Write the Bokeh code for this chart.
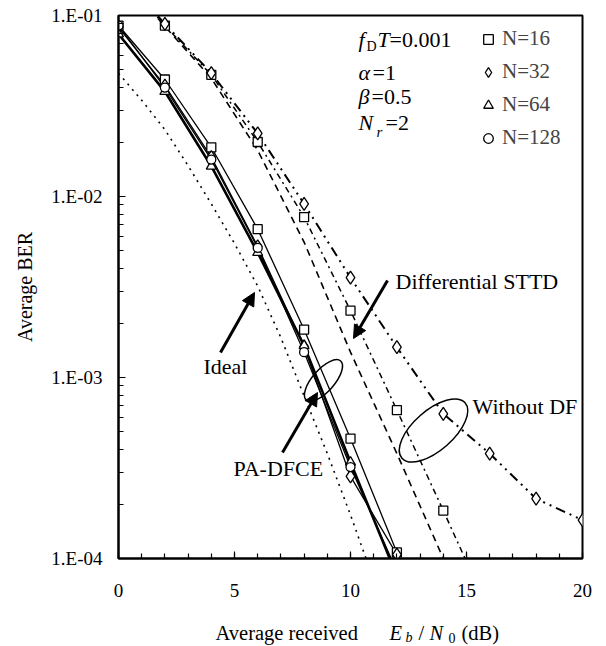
from bokeh.plotting import figure
from bokeh.layouts import column
from bokeh.models import (Range1d, FixedTicker, SingleIntervalTicker, Label, Arrow,
                          NormalHead, Legend, LegendItem)
from bokeh.embed import file_html
from bokeh.resources import INLINE

# ---------------- data ----------------
snr_pa = [0, 2, 4, 6, 8, 10, 12]
pa_n16 = [0.088, 0.0443, 0.0187, 0.0066, 0.00184, 0.00046, 0.000108]
pa_n32 = [0.086, 0.041, 0.0165, 0.0053, 0.00148, 0.000284, 0.000105]
pa_n64 = [0.079, 0.038, 0.0147, 0.0049, 0.0015, 0.00034, 0.00008]
pa_n128 = [0.088, 0.040, 0.016, 0.0052, 0.00138, 0.00032, 0.000085]

snr_ideal = [0, 1, 2, 3, 4, 5, 6, 7, 8, 9, 10, 11]
ideal = [0.048, 0.034, 0.0234, 0.0148, 0.0091, 0.0055, 0.0032, 0.00166,
         0.00079, 0.00038, 0.000174, 0.000076]

snr_dstt = [0, 2, 4, 6, 8, 10, 12, 14]
dstt = [0.17, 0.087, 0.045, 0.018, 0.0056, 0.00138, 0.00038, 0.0001]

snr_wdf16 = [0, 2, 4, 6, 8, 10, 12, 14, 16]
wdf_n16 = [0.17, 0.088, 0.047, 0.020, 0.0077, 0.00234, 0.00066, 0.000184, 0.00005]

snr_wdf32 = [0, 2, 4, 6, 8, 10, 12, 14, 16, 18, 20]
wdf_n32 = [0.17, 0.09, 0.048, 0.0223, 0.0091, 0.00356, 0.00147, 0.00063,
           0.00038, 0.000214, 0.000163]

xtick_vals = [0, 5, 10, 15, 20]
ytick_vals = [1e-4, 1e-3, 1e-2, 1e-1]
ytick_labels = ["1.E-04", "1.E-03", "1.E-02", "1.E-01"]
legend_labels = ["N=16", "N=32", "N=64", "N=128"]

FONT = "Liberation Serif"
FL, FR, FT, FB = 118, 582, 15, 558  # frame edges in canvas px
BOTTOM = 62                          # bottom border of the plot (x tick labels)
H_MAIN = FB + BOTTOM
H_STRIP = 646 - H_MAIN

p = figure(width=606, height=H_MAIN, output_backend="svg", toolbar_location=None,
           y_axis_type="log", x_range=Range1d(0, 20), y_range=Range1d(1e-4, 1e-1),
           frame_width=FR - FL, frame_height=FB - FT,
           min_border_left=FL, min_border_right=606 - FR, min_border_top=FT,
           min_border_bottom=BOTTOM)
p.xgrid.visible = False
p.ygrid.visible = False
p.outline_line_color = "black"
p.outline_line_width = 2
p.background_fill_color = "white"
p.border_fill_color = "white"

p.xaxis.ticker = SingleIntervalTicker(interval=5, num_minor_ticks=5)
minor_y = [m * 10.0 ** e for e in (-4, -3, -2) for m in range(2, 10)]
p.yaxis.ticker = FixedTicker(ticks=ytick_vals, minor_ticks=minor_y)
p.yaxis.major_label_overrides = dict(zip(ytick_vals, ytick_labels))
for ax in (p.xaxis, p.yaxis):
    ax.axis_line_width = 2
    ax.axis_line_color = "black"
    ax.major_tick_in = 7
    ax.major_tick_out = 0
    ax.minor_tick_in = 5
    ax.minor_tick_out = 0
    ax.major_tick_line_width = 1.2
    ax.minor_tick_line_width = 1.2
    ax.major_label_text_font = FONT
    ax.major_label_text_font_size = "19px"
    ax.major_label_text_color = "black"
    ax.axis_label_text_font = FONT
    ax.axis_label_text_font_style = "normal"
    ax.axis_label_text_font_size = "20px"
    ax.axis_label_text_color = "black"
p.xaxis.major_label_standoff = 25
p.yaxis.major_label_standoff = 16
p.yaxis.axis_label = "Average BER"
p.yaxis.axis_label_standoff = 12

# ---------------- curves ----------------
# Ideal
p.line(snr_ideal, ideal, line_color="black", line_width=1.6, line_dash="2 5")
# Differential STTD
p.line(snr_dstt, dstt, line_color="black", line_width=1.6, line_dash="7 5")
# Without DF
p.line(snr_wdf16, wdf_n16, line_color="black", line_width=1.5, line_dash="6 4 2 4")
p.line(snr_wdf32, wdf_n32, line_color="black", line_width=2, line_dash="10 5 2 5 2 5")
r_w16 = p.scatter(snr_wdf16, wdf_n16, marker="square", size=9, fill_color="white",
                  line_color="black", line_width=1.3)
r_w32 = p.scatter(snr_wdf32, wdf_n32, marker="diamond", size=13, fill_color="white",
                  line_color="black", line_width=1.3)
# PA-DFCE
p.line(snr_pa, pa_n16, line_color="black", line_width=1.3)
p.line(snr_pa, pa_n32, line_color="black", line_width=1.3)
p.line(snr_pa, pa_n64, line_color="black", line_width=2.6)
p.line(snr_pa, pa_n128, line_color="black", line_width=1.3)
r16 = p.scatter(snr_pa, pa_n16, marker="square", size=9, fill_color="white",
                line_color="black", line_width=1.3)
r32 = p.scatter(snr_pa, pa_n32, marker="diamond", size=13, fill_color="white",
                line_color="black", line_width=1.3)
r64 = p.scatter(snr_pa, pa_n64, marker="triangle", size=10, fill_color="white",
                line_color="black", line_width=1.3)
r128 = p.scatter(snr_pa, pa_n128, marker="circle", size=9, fill_color="white",
                 line_color="black", line_width=1.3)

# ---------------- legend ----------------
legend = Legend(items=[LegendItem(label=l, renderers=[r]) for l, r in
                       zip(legend_labels, [r16, r32, r64, r128])],
                location=(358, 408), orientation="vertical",
                glyph_width=24, glyph_height=24, spacing=8, padding=0, margin=0,
                label_standoff=2, label_text_font=FONT, label_text_font_size="21px",
                border_line_alpha=0, background_fill_alpha=0)
p.add_layout(legend)


# ---------------- annotations ----------------
def shift(size):
    # Bokeh's "alphabetic" anchor sits ~0.4 em above the real baseline
    return round(0.4 * size)


def lab(txt, X, Y, size=22, style="normal"):
    Yb = Y - shift(size)
    p.add_layout(Label(x=X - FL, y=FB - Yb, x_units="screen", y_units="screen",
                       text=txt, text_font=FONT, text_font_size=f"{size}px",
                       text_font_style=style, text_baseline="alphabetic",
                       text_align="left", text_color="black"))


def arrow(X0, Y0, X1, Y1):
    p.add_layout(Arrow(end=NormalHead(size=13, fill_color="black", line_color="black"),
                       x_start=X0 - FL, y_start=FB - Y0, x_end=X1 - FL, y_end=FB - Y1,
                       start_units="screen", end_units="screen",
                       line_width=3, line_color="black"))


def ellipse(X, Y, w, h, ang):
    xd = (X - FL) / 23.2
    yd = 10 ** (-1 - (Y - FT) / 181.0)
    p.ellipse(x=[xd], y=[yd], width=w, height=h, angle=ang,
              width_units="screen", height_units="screen",
              fill_alpha=0, line_color="black", line_width=1.5)


# parameter block
lab("f", 358, 48, style="italic")
lab("D", 366, 52, size=14)
lab("T", 377, 48, style="italic")
lab("=0.001", 389, 48)
lab("\u03b1", 358, 81, style="italic")
lab("=1", 372, 81)
lab("\u03b2", 358, 105, style="italic")
lab("=0.5", 371, 105)
lab("N", 358, 131, style="italic")
lab("r", 376, 137, size=15, style="italic")
lab("=2", 385, 131)

lab("Ideal", 203, 375)
lab("PA-DFCE", 233, 477)
lab("Differential STTD", 395, 290)
lab("Without DF", 472, 415)
arrow(220, 352, 254, 292)
arrow(282, 452, 317, 392)
arrow(387, 280, 353, 338)
ellipse(323, 380, 52, 22, 0.85)
ellipse(433, 430, 84, 40, 0.72)

# ---------------- x axis title strip (same frame columns as the plot) ----------------
q = figure(width=606, height=H_STRIP, output_backend="svg", toolbar_location=None,
           x_range=Range1d(FL, FR), y_range=Range1d(0, H_STRIP),
           frame_width=FR - FL, frame_height=H_STRIP,
           min_border_left=FL, min_border_right=606 - FR,
           min_border_top=0, min_border_bottom=0)
q.axis.visible = False
q.xgrid.visible = False
q.ygrid.visible = False
q.outline_line_color = None
q.background_fill_color = "white"
q.border_fill_color = "white"


def qlab(txt, X, Y, size=20.5, style="normal"):
    Yb = Y - shift(size)
    q.add_layout(Label(x=X, y=646 - Yb, text=txt, text_font=FONT,
                       text_font_size=f"{size}px",
                       text_font_style=style, text_baseline="alphabetic",
                       text_align="left", text_color="black"))


qlab("Average received ", 215, 640)
qlab("E", 389, 640, style="italic")
qlab("b", 405, 643, size=14, style="italic")
qlab("/", 418, 640)
qlab("N", 429, 640, style="italic")
qlab("0", 448, 643, size=14)
qlab("(dB)", 461, 640)

layout = column(p, q, spacing=0)
open("out.html", "w").write(file_html(layout, INLINE))
